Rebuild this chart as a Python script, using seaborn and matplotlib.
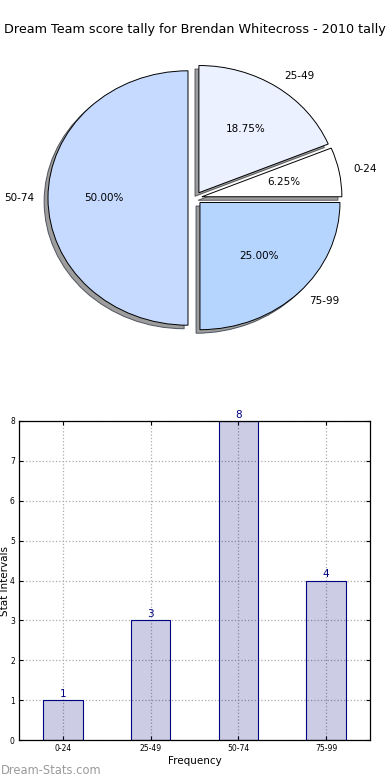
import matplotlib
matplotlib.use("Agg")
import matplotlib.pyplot as plt
import seaborn as sns
import pandas as pd

# score tally data
intervals = ["0-24", "25-49", "50-74", "75-99"]
counts = [1, 3, 8, 4]
pie_colors = ["#ffffff", "#ebf1ff", "#c6d9ff", "#b5d5ff"]
explode = [0.05, 0.05, 0.05, 0.05]
y_ticks = [0, 1, 2, 3, 4, 5, 6, 7, 8]

plt.rcParams['font.family'] = ['DejaVu Sans']

fig = plt.figure(figsize=(3.9, 7.8), dpi=100)

# pie chart on top
ax1 = fig.add_axes([20 / 390, 1 - 357 / 780, 350 / 390, 318 / 780])
wedges, texts, autotexts = ax1.pie(
    counts, explode=explode, labels=intervals, colors=pie_colors,
    autopct='%1.2f%%', shadow={'ox': -0.02, 'oy': -0.02, 'facecolor': '#8c8c8c', 'alpha': 0.85},
    startangle=0, wedgeprops={'edgecolor': 'black', 'linewidth': 0.7},
    textprops={'fontsize': 7.5, 'color': 'black'})
ax1.set_aspect('auto')
ax1.set_xlim(-1.25, 1.25)
ax1.set_ylim(-1.25, 1.25)
ax1.set_title("Dream Team score tally for Brendan Whitecross - 2010 tally",
              fontsize=9.2, pad=4)

# bar chart below
ax2 = fig.add_axes([19 / 390, 40 / 780, 351 / 390, 319 / 780])
df = pd.DataFrame({'Interval': intervals, 'Count': counts})
sns.barplot(data=df, x='Interval', y='Count', ax=ax2, width=0.45,
            color='navy', edgecolor='navy', linewidth=0.8, zorder=2)
for p in ax2.patches:
    p.set_facecolor((0, 0, 128 / 255, 0.2))
ax2.bar_label(ax2.containers[0], labels=[str(c) for c in counts],
              color='navy', fontsize=7.5, padding=1)
ax2.set_xlim(-0.5, 3.5)
ax2.set_ylim(0, 8)
ax2.set_yticks(y_ticks)
ax2.grid(True, linestyle=':', color='#aaaaaa', linewidth=0.9)
ax2.set_axisbelow(True)
ax2.tick_params(axis='both', direction='in', length=3, labelsize=5.5,
                top=True, right=True, pad=3)
for s in ax2.spines.values():
    s.set_color('black')
    s.set_linewidth(0.9)
ax2.set_xlabel("Frequency", fontsize=7.5, labelpad=2)
ax2.set_ylabel("Stat Intervals", fontsize=7.5)
ax2.yaxis.set_label_coords(-0.026, 0.5)

fig.text(0.002, 10 / 780, "Dream-Stats.com", color='#9a9a9a', fontsize=8.3,
         va='center', ha='left')

plt.savefig("out.png", dpi=100)
plt.close()
